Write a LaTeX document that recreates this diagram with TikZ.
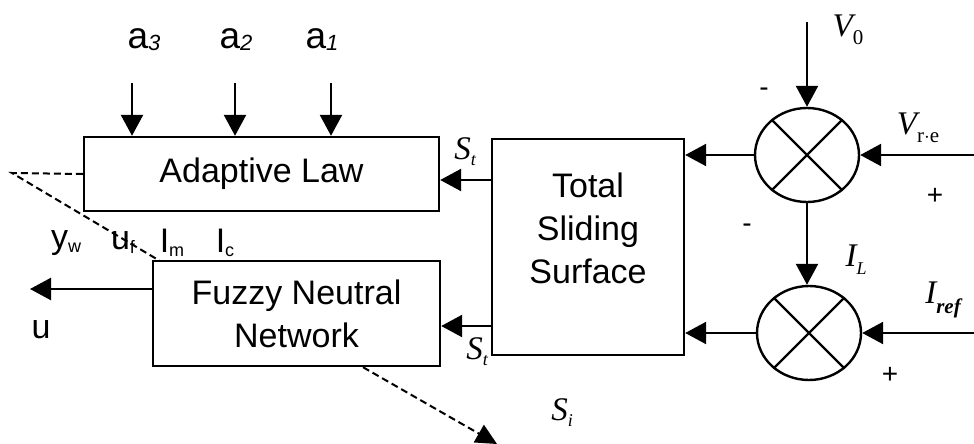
\documentclass[tikz,border=0pt]{standalone}
\usepackage{fontspec}
\setmainfont{Liberation Sans}
\newfontfamily\tnr{Liberation Serif}
\usetikzlibrary{arrows.meta,shapes.geometric}

\newcommand\fsz[1]{\fontsize{#1}{#1}\selectfont}
% small lowered index in the current font
\newcommand\lowsub[2][-5pt]{\raisebox{#1}{\fsz{18}#2}}

\begin{document}
\begin{tikzpicture}[x=1pt,y=-1pt,
  blk/.style={draw,line width=2.4pt,rectangle,inner sep=0pt},
  sumj/.style={draw,line width=2.4pt,ellipse,minimum width=104pt,minimum height=94pt,inner sep=0pt},
  arr/.style={line width=2.4pt,-{Triangle[length=21pt,width=22pt]}},
  dsh/.style={line width=2pt,dash pattern=on 7pt off 4pt},
  txt/.style={inner sep=0pt,font=\fsz{34}},
  mth/.style={inner sep=0pt,font=\fsz{33}\tnr\itshape},
  sgn/.style={inner sep=0pt,font=\fsz{28}}]
\useasboundingbox (0,0) rectangle (974,444);

% blocks
\node[blk,minimum width=355pt,minimum height=74pt,font=\fsz{34}] (al) at (261.5,174) {Adaptive Law};
\node[blk,minimum width=287pt,minimum height=105pt,align=center,font=\fontsize{34}{43}\selectfont] (fnn) at (296.5,313.5) {Fuzzy Neutral\\Network};
\node[blk,minimum width=192pt,minimum height=216pt] (tss) at (588,247) {};
\node[txt,align=center,font=\fontsize{34}{43}\selectfont] (tsstxt) at (588,228) {Total\\Sliding\\Surface};

% summing junctions
\node[sumj] (s1) at (807,155) {};
\node[sumj] (s2) at (809,333) {};
\draw[line width=2.4pt] (s1.45) -- (s1.225) (s1.135) -- (s1.315);
\draw[line width=2.4pt] (s2.45) -- (s2.225) (s2.135) -- (s2.315);

% weight inputs of the adaptive law
\coordinate (a3in) at (132,83);
\coordinate (a2in) at (235,83);
\coordinate (a1in) at (331,83);
\draw[arr] (a3in) -- (a3in |- al.north);
\draw[arr] (a2in) -- (a2in |- al.north);
\draw[arr] (a1in) -- (a1in |- al.north);
\node[txt,font=\fsz{37}] (la3) at (144,40) {a\lowsub[-2pt]{\fsz{22}\itshape 3}};
\node[txt,font=\fsz{37}] (la2) at (236,40) {a\lowsub[-2pt]{\fsz{22}\itshape 2}};
\node[txt,font=\fsz{37}] (la1) at (322,40) {a\lowsub[-2pt]{\fsz{22}\itshape 1}};

% sliding surface to the two blocks
\draw[arr] (tss.west |- 0,180) -- (al.east |- 0,180);
\draw[arr] (tss.west |- 0,326) -- (fnn.east |- 0,326);
\node[mth] (st1) at (465,152) {S\lowsub[-6pt]{t}};
\node[mth] (st2) at (477,352) {S\lowsub[-6pt]{t}};

% error signals
\coordinate (v0in) at (807,22);
\coordinate (vrin) at (974,155);
\coordinate (irin) at (974,333);
\draw[arr] (v0in) -- (s1.north);
\draw[arr] (vrin) -- (s1.east);
\draw[arr] (s1.south) -- (s1.south |- s2.north);
\draw[arr] (irin) -- (s2.east);
\draw[arr] (s1.west) -- (tss.east |- s1.west);
\draw[arr] (s2.west) -- (tss.east |- s2.west);
\node[mth] (lv0) at (848,30) {V\lowsub[-8pt]{\fsz{21}\upshape 0}};
\node[mth] (lvr) at (918,128) {V\lowsub[-8pt]{\fsz{21}\upshape r$\cdot$e}};
\node[mth] (lil) at (856,260) {I\lowsub[-8pt]{L}};
\node[mth] (lir) at (943,300) {I\lowsub[-10pt]{\fsz{21}\bfseries ref}};
\node[sgn] (m1) at (764,92) {-};
\node[sgn] (m2) at (747,228) {-};
\node[sgn] (p1) at (935,196) {+};
\node[sgn] (p2) at (890,375) {+};

% controller output
\coordinate (uout) at (30,289);
\draw[arr] (fnn.west |- uout) -- (uout);
\node[txt] (lu) at (41,330) {u};

% signals passed to the adaptive law
\node[txt] (lyw) at (66,243) {y\lowsub[-4pt]{w}};
\node[txt] (luf) at (123,243) {u\lowsub[-4pt]{f}};
\node[txt] (lim) at (172,243) {I\lowsub[-4pt]{m}};
\node[txt] (lic) at (225,243) {I\lowsub[-4pt]{c}};

% dashed feedback paths
\coordinate (dl) at (12,173);
\coordinate (dend) at (160,261);
\draw[dsh] (al.west) -- (dl) -- (dend);
\coordinate (sout) at (497,444);
\draw[dsh,-{Triangle[length=21pt,width=20pt]}] (fnn.south -| 363,0) -- (sout);
\node[mth] (lsi) at (562,413) {S\lowsub[-6pt]{i}};
\end{tikzpicture}
\end{document}
